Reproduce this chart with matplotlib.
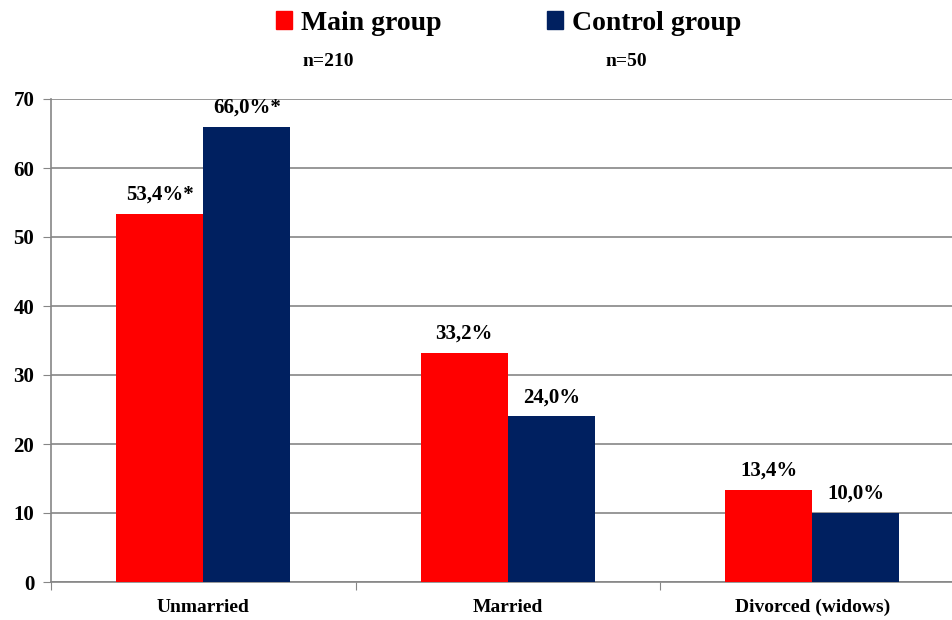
import numpy as np
import matplotlib.pyplot as plt
from matplotlib.patches import Patch

# Data
categories = ["Unmarried", "Married", "Divorced (widows)"]
mainVals = [53.4, 33.2, 13.4]
controlVals = [66.0, 24.0, 10.0]
mainLabels = ["53,4%*", "33,2%", "13,4%"]
controlLabels = ["66,0%*", "24,0%", "10,0%"]
seriesNames = ["Main group", "Control group"]
sampleSizes = ["n=210", "n=50"]

mainColor = "#ff0000"
controlColor = "#002060"
gridColor = "#868686"

plt.rcParams["font.family"] = ["Liberation Serif", "DejaVu Serif"]
plt.rcParams["font.weight"] = "bold"

fig = plt.figure(figsize=(9.52, 6.2), dpi=100)
ax = fig.add_axes([51 / 952, 38 / 620, 913.5 / 952, 483 / 620])

x = np.arange(len(categories))
barW = 0.286
ax.bar(x - barW / 2, mainVals, barW, color=mainColor, zorder=3)
ax.bar(x + barW / 2, controlVals, barW, color=controlColor, zorder=3)

for xi, v, lab in zip(x - barW / 2, mainVals, mainLabels):
    ax.text(xi, v + 1.3, lab, ha="center", va="bottom", fontsize=15, fontweight="bold")
for xi, v, lab in zip(x + barW / 2, controlVals, controlLabels):
    ax.text(xi, v + 1.3, lab, ha="center", va="bottom", fontsize=15, fontweight="bold")

ax.set_xlim(-0.5, 2.5)
ax.set_ylim(0, 70)
ax.set_yticks(range(0, 71, 10))
ax.yaxis.grid(True, color=gridColor, linewidth=1.2, zorder=0)
ax.set_axisbelow(True)

ax.set_xticks([-0.5, 0.5, 1.5, 2.5])
ax.set_xticklabels([])
ax.set_xticks(x, minor=True)
ax.set_xticklabels(categories, minor=True, fontsize=14, fontweight="bold")
ax.tick_params(axis="x", which="minor", length=0, pad=12)
ax.tick_params(axis="x", which="major", length=6, color=gridColor, direction="out")
ax.tick_params(axis="y", length=6, color=gridColor, labelsize=15, pad=6)
for t in ax.get_yticklabels():
    t.set_fontweight("bold")

for side in ["top", "right"]:
    ax.spines[side].set_visible(False)
for side in ["left", "bottom"]:
    ax.spines[side].set_color(gridColor)
    ax.spines[side].set_linewidth(1.2)

handles = [Patch(color=mainColor), Patch(color=controlColor)]
fig.legend(handles, seriesNames, loc="center", bbox_to_anchor=(0.534, 0.962), ncol=2,
           frameon=False, prop={"size": 20, "weight": "bold"},
           handlelength=0.6, handleheight=0.6, handletextpad=0.3, columnspacing=3.8)

fig.text(328 / 952, 1 - 62 / 620, sampleSizes[0], ha="center", va="center", fontsize=14, fontweight="bold")
fig.text(626 / 952, 1 - 62 / 620, sampleSizes[1], ha="center", va="center", fontsize=14, fontweight="bold")

fig.savefig("out.png", dpi=100)
